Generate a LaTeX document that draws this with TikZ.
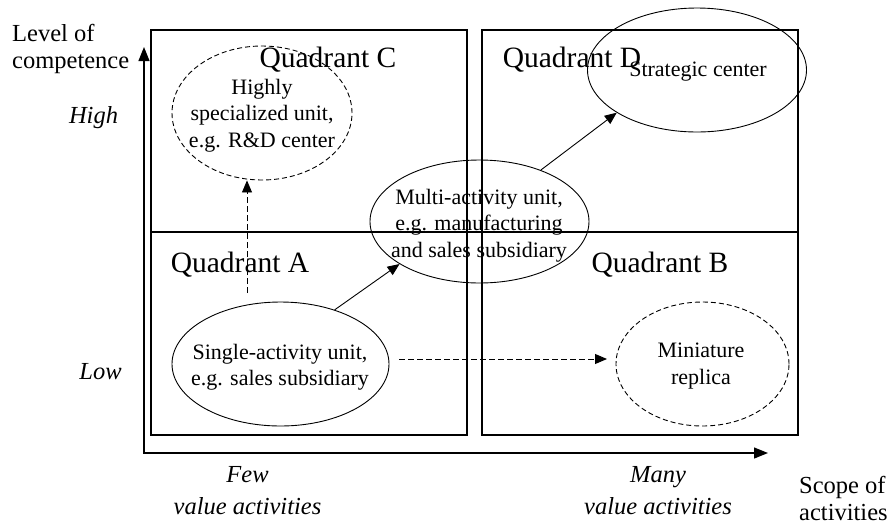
\documentclass[tikz,border=0pt]{standalone}
\usepackage{fontspec}
\setmainfont{Liberation Serif}
\usetikzlibrary{shapes.geometric,arrows.meta}
\begin{document}
\begin{tikzpicture}[x=1pt,y=-1pt,
  box/.style={draw,line width=1.3pt},
  unit/.style={draw,ellipse,line width=0.9pt,inner sep=0pt},
  dunit/.style={unit,dash pattern=on 5pt off 3pt},
  body/.style={font=\fontsize{22}{26.5}\selectfont,align=center,inner sep=0pt},
  quad/.style={font=\fontsize{29.5}{34}\selectfont,inner sep=0pt,anchor=base},
  axlab/.style={font=\fontsize{24.5}{27}\selectfont,inner sep=0pt,align=left,anchor=west},
  ital/.style={font=\fontsize{24.5}{32}\selectfont\itshape,inner sep=0pt,align=center},
  conn/.style={line width=0.9pt,-{Triangle[length=12pt,width=10pt]}},
  dconn/.style={conn,dash pattern=on 6pt off 3pt},
  axis/.style={line width=1.2pt,{Triangle[length=14pt,width=11pt]}-{Triangle[length=14pt,width=11pt]}}
]
\useasboundingbox (0,0) rectangle (895,531);

% quadrant frames
\draw[box] (151,30) rectangle (467,435);
\draw[box] (482,30) rectangle (798,435);
\draw[box] (151,232) -- (798,232);

% axes
\coordinate (O) at (144,453);
\coordinate (Ytip) at (144,47);
\coordinate (Xtip) at (768,453);
\draw[axis] (Ytip) -- (O) -- (Xtip);

% quadrant labels
\node[quad] (qC) at (328,67) {Quadrant C};
\node[quad] (qD) at (572,67) {Quadrant D};
\node[quad] (qA) at (240,272) {Quadrant A};
\node[quad] (qB) at (660,272) {Quadrant B};

% ellipses
\node[dunit,minimum width=180pt,minimum height=134pt] (C) at (262,113) {};
\node[unit,minimum width=219pt,minimum height=124pt] (D) at (697,70) {};
\node[unit,minimum width=219pt,minimum height=123pt] (M) at (479.5,221.5) {};
\node[unit,minimum width=217pt,minimum height=124pt] (SA) at (280.5,364) {};
\node[dunit,minimum width=173pt,minimum height=124pt] (MR) at (702.5,364) {};

% ellipse texts
\node[body] (Ct) at (262,115.4) {Highly\\specialized unit,\\e.g. R\&D center};
\node[body] (Dt) at (698,72) {Strategic center};
\node[body] (Mt) at (479,225.4) {Multi-activity unit,\\e.g. manufacturing\\and sales subsidiary};
\node[body] (SAt) at (280,367) {Single-activity unit,\\e.g. sales subsidiary};
\node[body] (MRt) at (701,366) {Miniature\\replica};

% axis labels
\node[axlab] (yl) at (12,48.8) {Level of\\competence};
\node[axlab] (xl) at (799,498.2) {Scope of\\activities};
\node[font=\fontsize{24.5}{27}\selectfont\itshape,inner sep=0pt,anchor=base] (hi) at (93.5,123) {High};
\node[font=\fontsize{24.5}{27}\selectfont\itshape,inner sep=0pt,anchor=base] (lo) at (100.5,379) {Low};
\node[ital] (few) at (247.5,490.7) {Few\\value activities};
\node[ital] (many) at (658,491) {Many\\value activities};

% connectors
\draw[conn] (SA.45) -- (M.208);
\draw[conn] (M.40) -- (D.208);
\coordinate (v0) at (247,293);
\draw[dconn] (v0) -- (v0 |- C.south);
\coordinate (h0) at (399,359);
\coordinate (h1) at (607,359);
\draw[dconn] (h0) -- (h1);
\end{tikzpicture}
\end{document}
